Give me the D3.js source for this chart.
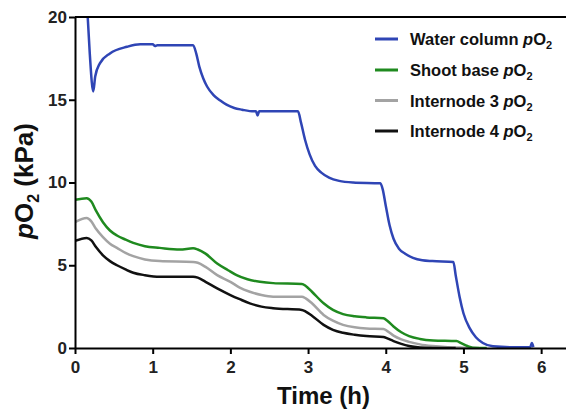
<!DOCTYPE html>
<meta charset="utf-8">
<script src="https://d3js.org/d3.v7.min.js"></script>
<style>
  body { margin: 0; background: #fff; }
  text { font-family: "Liberation Sans", Arial, sans-serif; font-weight: bold; }
</style>
<div id="chart"></div>
<script>
// series data (time in h, pO2 in kPa)
const waterTime = [0.16, 0.19, 0.235, 0.26, 0.32, 0.45, 0.67, 0.84, 1.0, 1.03, 1.06, 1.3, 1.52, 1.56, 1.6, 1.65, 1.7, 1.78, 1.87, 1.95, 2.05, 2.15, 2.3, 2.33, 2.35, 2.37, 2.6, 2.87, 2.91, 2.96, 3.02, 3.09, 3.17, 3.27, 3.4, 3.58, 3.93, 3.96, 4.0, 4.05, 4.1, 4.17, 4.25, 4.35, 4.47, 4.6, 4.87, 4.9, 4.95, 5.0, 5.08, 5.16, 5.25, 5.38, 5.6, 5.86, 5.88, 5.9];
const waterVal = [20.3, 17.8, 15.5, 16.4, 17.2, 17.8, 18.2, 18.35, 18.35, 18.25, 18.3, 18.3, 18.3, 17.8, 17.0, 16.3, 15.8, 15.3, 14.95, 14.7, 14.5, 14.4, 14.3, 14.3, 14.05, 14.3, 14.3, 14.3, 13.6, 12.6, 11.7, 11.0, 10.6, 10.3, 10.1, 10.0, 9.95, 9.6, 8.6, 7.4, 6.6, 6.0, 5.7, 5.45, 5.3, 5.25, 5.2, 4.4, 3.1, 2.1, 1.2, 0.65, 0.3, 0.1, 0.05, 0.05, 0.3, 0.05];

const shootTime = [0, 0.15, 0.21, 0.27, 0.36, 0.45, 0.54, 0.65, 0.75, 0.9, 1.09, 1.35, 1.52, 1.58, 1.68, 1.83, 1.97, 2.08, 2.22, 2.38, 2.55, 2.92, 2.97, 3.05, 3.2, 3.32, 3.45, 3.6, 3.75, 3.97, 4.02, 4.1, 4.2, 4.3, 4.44, 4.61, 4.91, 4.97, 5.05, 5.12, 5.3];
const shootVal = [8.95, 9.05, 8.85, 8.3, 7.6, 7.1, 6.8, 6.55, 6.35, 6.15, 6.05, 5.95, 6.02, 5.95, 5.7, 5.1, 4.7, 4.4, 4.15, 4.0, 3.92, 3.87, 3.75, 3.4, 2.7, 2.3, 2.05, 1.92, 1.85, 1.8, 1.65, 1.3, 0.95, 0.72, 0.55, 0.46, 0.42, 0.3, 0.12, 0.02, 0];

const node3Time = [0, 0.15, 0.21, 0.27, 0.36, 0.45, 0.54, 0.65, 0.75, 0.9, 1.09, 1.52, 1.58, 1.68, 1.83, 2.0, 2.12, 2.25, 2.4, 2.55, 2.92, 2.97, 3.05, 3.2, 3.32, 3.45, 3.6, 3.75, 3.97, 4.02, 4.1, 4.2, 4.3, 4.44, 4.6, 4.8, 5.0, 5.2];
const node3Val = [7.6, 7.85, 7.65, 7.2, 6.7, 6.3, 6.05, 5.75, 5.55, 5.35, 5.25, 5.2, 5.15, 4.9, 4.4, 4.0, 3.65, 3.4, 3.2, 3.1, 3.1, 3.0, 2.7, 2.0, 1.65, 1.4, 1.25, 1.18, 1.15, 1.02, 0.75, 0.52, 0.37, 0.22, 0.12, 0.05, 0.02, 0];

const node4Time = [0, 0.15, 0.21, 0.27, 0.36, 0.45, 0.54, 0.65, 0.75, 0.9, 1.09, 1.52, 1.58, 1.68, 1.83, 2.0, 2.12, 2.25, 2.4, 2.55, 2.92, 2.97, 3.05, 3.2, 3.32, 3.45, 3.6, 3.75, 3.97, 4.02, 4.1, 4.2, 4.3, 4.44, 4.6, 4.9];
const node4Val = [6.47, 6.65, 6.5, 6.1, 5.6, 5.25, 5.0, 4.75, 4.55, 4.4, 4.3, 4.3, 4.25, 4.0, 3.6, 3.2, 2.95, 2.7, 2.5, 2.4, 2.3, 2.2, 1.95, 1.4, 1.1, 0.92, 0.8, 0.72, 0.67, 0.58, 0.42, 0.25, 0.12, 0.03, 0, 0];

const seriesNames = ["Water column ", "Shoot base ", "Internode 3 ", "Internode 4 "];
const seriesColors = ["#2f45b5", "#1f8a1f", "#a3a3a3", "#111111"];
const xTicks = [0, 1, 2, 3, 4, 5, 6];
const yTicks = [0, 5, 10, 15, 20];

const W = 566, H = 413;
const margin = {top: 17, right: 0, bottom: 65, left: 75};
const width = W - margin.left - margin.right,
      height = H - margin.top - margin.bottom;

const svg = d3.select("#chart").append("svg")
    .attr("width", W).attr("height", H);

const x = d3.scaleLinear().domain([0, 6.32]).range([0, width]);
const y = d3.scaleLinear().domain([0, 20]).range([height, 0]);

const g = svg.append("g").attr("transform", `translate(${margin.left},${margin.top})`);

g.append("clipPath").attr("id", "clip")
  .append("rect").attr("x", 0).attr("y", 0).attr("width", width).attr("height", height);

// lines
const series = [
  {t: waterTime, v: waterVal},
  {t: shootTime, v: shootVal},
  {t: node3Time, v: node3Val},
  {t: node4Time, v: node4Val}
];
const line = d3.line()
    .x(d => x(d[0])).y(d => y(Math.max(0, d[1])))
    .curve(d3.curveMonotoneX);

const drawOrder = [0, 2, 1, 3];
drawOrder.forEach(i => {
  const s = series[i];
  g.append("path")
    .datum(s.t.map((t, j) => [t, s.v[j]]))
    .attr("clip-path", "url(#clip)")
    .attr("fill", "none")
    .attr("stroke", seriesColors[i])
    .attr("stroke-width", 2.5)
    .attr("stroke-linejoin", "round")
    .attr("d", line);
});

// top frame line
g.append("line")
  .attr("x1", 0).attr("x2", width).attr("y1", 0).attr("y2", 0)
  .attr("stroke", "#000").attr("stroke-width", 2);

// axes
const xAxis = g.append("g")
  .attr("transform", `translate(0,${height})`)
  .call(d3.axisBottom(x).tickValues(xTicks).tickFormat(d3.format("d")).tickSize(6).tickSizeOuter(0));
const yAxis = g.append("g")
  .call(d3.axisLeft(y).tickValues(yTicks).tickFormat(d3.format("d")).tickSize(6).tickSizeOuter(0));

[xAxis, yAxis].forEach(a => {
  a.select(".domain").attr("stroke", "#000").attr("stroke-width", 2);
  a.selectAll(".tick line").attr("stroke", "#000").attr("stroke-width", 2);
  a.selectAll(".tick text").attr("fill", "#222").style("font-size", "17px").style("font-weight", "bold");
});
xAxis.selectAll(".tick text").attr("dy", "0.71em").attr("y", 13);
yAxis.selectAll(".tick text").attr("x", -8);

// axis titles
svg.append("text")
  .attr("x", margin.left + width / 2 + 3)
  .attr("y", 404)
  .attr("text-anchor", "middle")
  .style("font-size", "24px")
  .attr("fill", "#111")
  .text("Time (h)");

const yt = svg.append("text")
  .attr("transform", "translate(33,181) rotate(-90)")
  .attr("text-anchor", "middle")
  .style("font-size", "26px")
  .attr("fill", "#111");
yt.append("tspan").style("font-style", "italic").text("p");
yt.append("tspan").text("O");
yt.append("tspan").attr("dy", 6).style("font-size", "16px").text("2");
yt.append("tspan").attr("dy", -6).text(" (kPa)");

// legend
const legY = [39, 70, 100.5, 131];
seriesNames.forEach((name, i) => {
  const lg = svg.append("g").attr("transform", `translate(375,${legY[i]})`);
  lg.append("line").attr("x1", 0).attr("x2", 23).attr("y1", 0).attr("y2", 0)
    .attr("stroke", seriesColors[i]).attr("stroke-width", 3);
  const t = lg.append("text").attr("x", 35).attr("y", 6)
    .style("font-size", "16.5px").attr("fill", "#111");
  t.append("tspan").text(name);
  t.append("tspan").style("font-style", "italic").text("p");
  t.append("tspan").text("O");
  t.append("tspan").attr("dy", 4).style("font-size", "11px").text("2");
});
</script>
